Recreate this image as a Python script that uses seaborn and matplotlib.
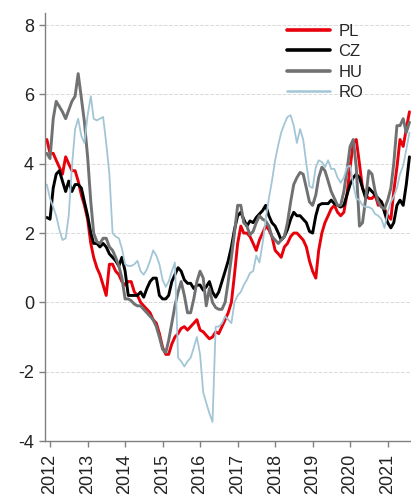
import pandas as pd
import matplotlib
matplotlib.use("Agg")
from matplotlib import pyplot as plt
import matplotlib.dates as mdates
import seaborn as sns

# monthly values, Dec 2011 - Aug 2021
months = pd.date_range("2011-12-01", periods=117, freq="MS")

pl = [4.7, 4.3, 4.3, 4.1, 3.9, 3.7, 4.2, 4.0, 3.8, 3.8, 3.5, 3.1, 2.8,
      2.4, 1.7, 1.3, 1.0, 0.8, 0.5, 0.2, 1.1, 1.1, 0.9, 0.8, 0.6,
      0.5, 0.6, 0.6, 0.3, 0.2, 0.0, -0.1, -0.2, -0.3, -0.5, -0.6, -0.9,
      -1.3, -1.5, -1.5, -1.2, -1.0, -0.9, -0.75, -0.7, -0.8, -0.7, -0.6, -0.5,
      -0.8, -0.85, -0.95, -1.05, -1.0, -0.85, -0.9, -0.7, -0.5, -0.3, 0.0, 0.8,
      1.7, 2.2, 2.0, 2.0, 1.9, 1.7, 1.5, 1.8, 2.0, 2.2, 2.1, 1.9,
      1.5, 1.4, 1.3, 1.6, 1.7, 1.9, 2.0, 2.0, 1.9, 1.8, 1.6, 1.2,
      0.9, 0.7, 1.5, 2.0, 2.3, 2.5, 2.7, 2.8, 2.6, 2.5, 2.6, 3.1,
      3.9, 4.6, 4.7, 4.0, 3.3, 3.1, 3.0, 3.0, 3.1, 2.8, 2.9, 2.7,
      2.5, 2.4, 3.2, 3.9, 4.7, 4.5, 5.0, 5.5]

cz = [2.45, 2.4, 3.3, 3.7, 3.8, 3.5, 3.2, 3.5, 3.2, 3.4, 3.4, 3.3, 2.9,
      2.5, 2.0, 1.7, 1.7, 1.6, 1.7, 1.6, 1.4, 1.3, 1.2, 1.05, 1.3,
      0.9, 0.2, 0.2, 0.2, 0.2, 0.3, 0.15, 0.4, 0.6, 0.7, 0.7, 0.2,
      0.1, 0.1, 0.2, 0.6, 0.8, 1.0, 0.9, 0.65, 0.55, 0.55, 0.4, 0.5,
      0.5, 0.35, 0.45, 0.6, 0.3, 0.15, 0.3, 0.6, 0.9, 1.2, 1.6, 2.1,
      2.5, 2.6, 2.4, 2.2, 2.35, 2.3, 2.45, 2.55, 2.65, 2.8, 2.5, 2.3,
      2.2, 2.0, 1.8, 1.9, 2.1, 2.4, 2.6, 2.5, 2.5, 2.4, 2.3, 2.05,
      2.0, 2.5, 2.8, 2.85, 2.85, 2.85, 2.95, 2.85, 2.8, 2.75, 2.8, 3.1,
      3.4, 3.6, 3.7, 3.6, 3.3, 3.0, 3.3, 3.2, 3.1, 3.0, 2.9, 2.6,
      2.3, 2.15, 2.3, 2.8, 2.95, 2.8, 3.4, 4.2]

hu = [4.3, 4.15, 5.3, 5.8, 5.65, 5.5, 5.3, 5.55, 5.8, 5.95, 6.6, 5.9, 5.2,
      4.2, 2.9, 2.0, 1.75, 1.7, 1.85, 1.85, 1.6, 1.5, 1.3, 1.05, 0.7,
      0.1, 0.1, 0.05, -0.05, -0.1, -0.1, -0.2, -0.3, -0.4, -0.5, -0.7, -1.0,
      -1.35, -1.45, -1.1, -0.6, -0.1, 0.3, 0.6, 0.2, -0.3, -0.3, 0.1, 0.6,
      0.9, 0.7, -0.1, 0.4, 0.0, -0.15, -0.2, -0.2, 0.0, 0.6, 1.3, 2.0,
      2.8, 2.8, 2.3, 2.2, 1.95, 2.05, 2.3, 2.5, 2.4, 2.35, 2.2, 1.9,
      1.8, 1.7, 1.8, 1.9, 2.3, 2.9, 3.4, 3.6, 3.75, 3.7, 3.3, 2.9,
      2.8, 3.1, 3.6, 3.9, 3.8, 3.5, 3.2, 3.0, 2.8, 2.8, 3.2, 3.8,
      4.5, 4.7, 3.9, 2.2, 2.3, 3.0, 3.8, 3.7, 3.2, 2.9, 2.75, 2.7,
      2.95, 3.3, 4.0, 5.1, 5.1, 5.3, 4.9, 5.2]

ro = [3.4, 3.0, 2.75, 2.5, 2.1, 1.8, 1.85, 2.5, 3.9, 5.0, 5.3, 4.8, 4.6,
      5.4, 5.95, 5.3, 5.25, 5.3, 5.35, 4.6, 3.7, 2.0, 1.9, 1.85, 1.55,
      1.1, 1.05, 1.05, 1.1, 1.2, 0.9, 0.8, 0.95, 1.2, 1.5, 1.35, 1.1,
      0.65, 0.45, 0.6, 0.9, 1.15, -1.6, -1.7, -1.85, -1.7, -1.6, -1.3, -1.0,
      -1.5, -2.6, -2.9, -3.2, -3.45, -0.7, -0.7, -0.6, -0.4, -0.5, -0.6, 0.0,
      0.2, 0.3, 0.5, 0.65, 0.85, 0.9, 1.35, 1.15, 1.7, 2.4, 3.0, 3.5,
      4.1, 4.55, 4.9, 5.15, 5.35, 5.4, 5.1, 4.6, 5.0, 4.7, 4.0, 3.35,
      3.3, 3.9, 4.1, 4.05, 3.9, 4.1, 3.85, 3.85, 3.6, 3.45, 3.6, 3.9,
      3.95, 3.4, 3.0, 2.95, 2.8, 2.75, 2.75, 2.7, 2.55, 2.5, 2.4, 2.15,
      2.6, 2.9, 3.05, 3.3, 3.7, 3.95, 4.4, 4.9]

countries = ["PL", "CZ", "HU", "RO"]
colors = {"PL": "#e8000b", "CZ": "#000000", "HU": "#707173", "RO": "#a3c6d6"}
widths = {"PL": 2.1, "CZ": 2.1, "HU": 2.1, "RO": 1.3}

df = pd.DataFrame({"date": months, "PL": pl, "CZ": cz, "HU": hu, "RO": ro})
long = df.melt(id_vars="date", var_name="country", value_name="value")

sns.set_style("white")
plt.rcParams["font.family"] = ["Liberation Sans", "DejaVu Sans"]
plt.rcParams["axes.unicode_minus"] = False

fig = plt.figure(figsize=(4.11, 4.95), dpi=100)
ax = fig.add_axes([45 / 411, 1 - 441 / 495, 366 / 411, 428 / 495])

sns.lineplot(data=long, x="date", y="value", hue="country", hue_order=countries,
             palette=colors, ax=ax)
for line, c in zip(ax.get_lines(), countries):
    line.set_linewidth(widths[c])

ax.set_ylim(-4, 8.35)
ax.set_yticks([-4, -2, 0, 2, 4, 6, 8])
ax.set_xlim(pd.Timestamp("2011-11-13"), pd.Timestamp("2021-08-16"))
ax.xaxis.set_major_locator(mdates.YearLocator())
ax.xaxis.set_major_formatter(mdates.DateFormatter("%Y"))
ax.set_xlabel("")
ax.set_ylabel("")
ax.grid(axis="y", linestyle="--", color="#d9d9d9", linewidth=0.7)
ax.set_axisbelow(True)

for s in ["top", "right"]:
    ax.spines[s].set_visible(False)
for s in ["left", "bottom"]:
    ax.spines[s].set_color("#808080")
    ax.spines[s].set_linewidth(1.0)

ax.tick_params(axis="y", labelsize=13, colors="#808080", labelcolor="#222222",
               length=4, width=1, pad=4, direction="out", left=True)
ax.tick_params(axis="x", labelsize=13, colors="#808080", labelcolor="#222222",
               length=4, width=1, pad=5, direction="out", bottom=True, labelrotation=90)

ax.legend(loc="upper left", bbox_to_anchor=(0.66, 0.975), frameon=False,
          fontsize=12, handlelength=2.6, handletextpad=0.5, labelspacing=0.33,
          borderpad=0, borderaxespad=0)
leg = ax.get_legend()
for h, c in zip(leg.get_lines(), countries):
    h.set_linewidth(widths[c] + 0.5)

fig.savefig("out.png", dpi=100)
